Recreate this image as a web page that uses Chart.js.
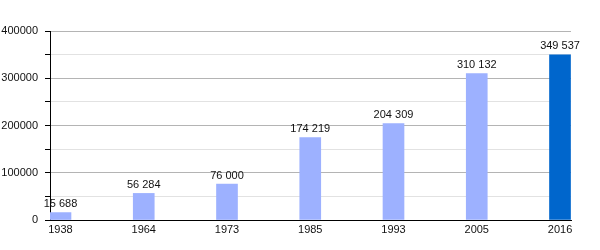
<!DOCTYPE html>
<html>
<head>
<meta charset="utf-8">
<script src="https://cdn.jsdelivr.net/npm/chart.js@4/dist/chart.umd.min.js"></script>
<style>
  html, body { margin: 0; padding: 0; background: #fff; }
  #box { width: 600px; height: 250px; position: relative; }
</style>
</head>
<body>
<div id="box"><canvas id="ch"></canvas></div>
<script>
const ANIOS = ["1938", "1964", "1973", "1985", "1993", "2005", "2016"];
const POBLACION = [15688, 56284, 76000, 174219, 204309, 310132, 349537];
const COLORES_BARRAS = ["#9db1ff", "#9db1ff", "#9db1ff", "#9db1ff", "#9db1ff", "#9db1ff", "#0066cc"];

Chart.defaults.font.family = "'Liberation Sans', Arial, Helvetica, sans-serif";
Chart.defaults.font.size = 11;
Chart.defaults.color = "#111";

function conEspacios(n) {
  return String(n).replace(/\B(?=(\d{3})+(?!\d))/g, " ");
}

// etiquetas de valor encima de cada barra
const pluginValores = {
  id: "valores",
  afterDatasetsDraw(chart) {
    const { ctx } = chart;
    const meta = chart.getDatasetMeta(0);
    ctx.save();
    ctx.font = "11px 'Liberation Sans', Arial, sans-serif";
    ctx.fillStyle = "#111";
    ctx.textAlign = "center";
    ctx.textBaseline = "bottom";
    meta.data.forEach((bar, i) => {
      ctx.fillText(conEspacios(POBLACION[i]), bar.x, bar.y - 3);
    });
    ctx.restore();
  }
};

new Chart(document.getElementById("ch"), {
  type: "bar",
  data: {
    datasets: [{
      data: POBLACION.map((v, i) => ({ x: i, y: v })),
      backgroundColor: COLORES_BARRAS,
      barThickness: 21
    }]
  },
  options: {
    responsive: true,
    maintainAspectRatio: false,
    animation: false,
    layout: { padding: { left: 0, right: 29, top: 31, bottom: 0 } },
    plugins: {
      legend: { display: false },
      tooltip: { enabled: false }
    },
    scales: {
      x: {
        type: "linear",
        offset: false,
        min: -0.126,
        max: 6.132,
        grid: { display: false, drawTicks: false },
        border: { display: true, color: "#000", width: 1 },
        ticks: {
          stepSize: 1,
          includeBounds: false,
          autoSkip: false,
          maxRotation: 0,
          padding: 3,
          color: "#111",
          callback: v => Number.isInteger(v) ? ANIOS[v] : ""
        },
        afterFit: s => { s.height = 30; }
      },
      y: {
        min: 0,
        max: 400000,
        grid: {
          color: c => c.tick.value % 100000 === 0 ? "#b4b4b4" : "#e2e2e2",
          tickColor: "#000",
          tickLength: 5,
          drawTicks: true
        },
        border: { display: true, color: "#000", width: 1 },
        ticks: {
          stepSize: 50000,
          padding: 7,
          color: "#111",
          callback: v => v % 100000 === 0 ? String(v) : ""
        },
        afterFit: s => { s.width = 50; }
      }
    }
  },
  plugins: [pluginValores]
});
</script>
</body>
</html>
